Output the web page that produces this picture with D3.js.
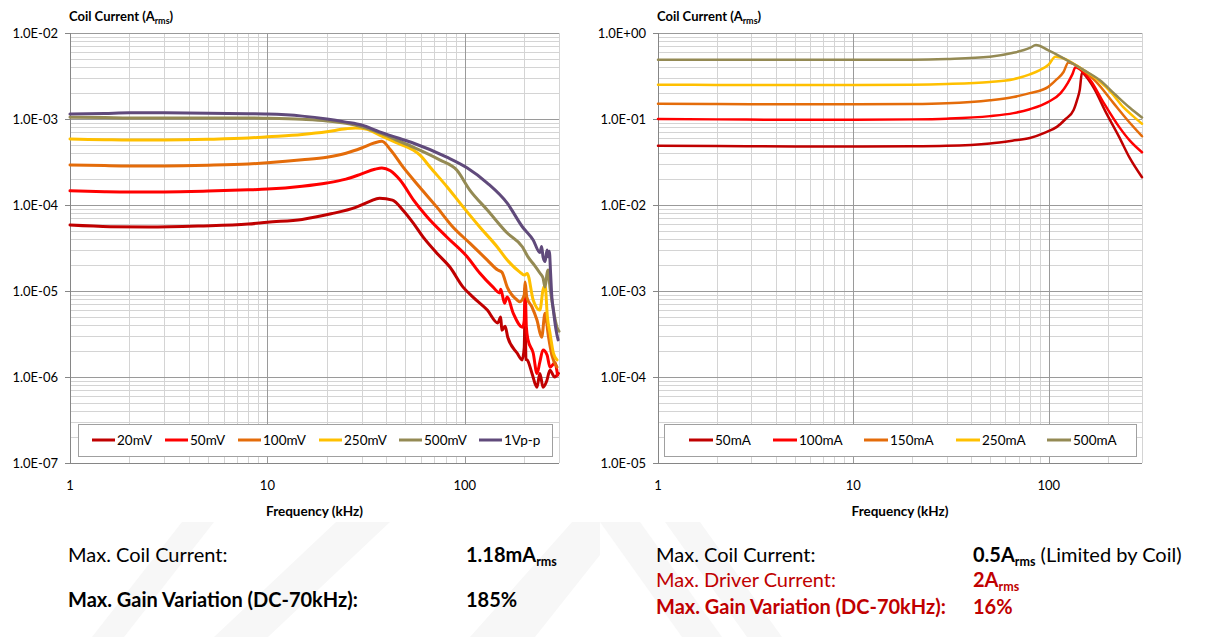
<!DOCTYPE html>
<html>
<head>
<meta charset="utf-8">
<script src="https://cdn.jsdelivr.net/npm/d3@7"></script>
<style>
  body { margin: 0; background: #ffffff; }
  svg { display: block; font-family: Lato, "Open Sans", sans-serif; }
</style>
</head>
<body>
<svg id="chart" width="1205" height="637"></svg>
<script>
// ---------------- data ----------------
const freqTickLabels = ["1", "10", "100"];
const leftYTickLabels = ["1.0E-07", "1.0E-06", "1.0E-05", "1.0E-04", "1.0E-03", "1.0E-02"];
const rightYTickLabels = ["1.0E-05", "1.0E-04", "1.0E-03", "1.0E-02", "1.0E-01", "1.0E+00"];

// voltage-drive sweeps: [frequency kHz, coil current A rms]
const driveLevels = ["20mV", "50mV", "100mV", "250mV", "500mV", "1Vp-p"];
const drive20mV = [[1,5.85e-5],[1.6,5.6e-5],[2.5,5.55e-5],[4.5,5.7e-5],[8,6.0e-5],[10,6.3e-5],[15,6.8e-5],[21,7.9e-5],[28,9.4e-5],[33,1.1e-4],[37,1.2e-4],[43,1.14e-4],[48.6,8.7e-5],[54.7,6.2e-5],[61.4,4.25e-5],[72,2.77e-5],[84,1.9e-5],[98,1.11e-5],[110,8.5e-6],[130,6.0e-6],[147,4.25e-6],[152,5.0e-6],[154,3.5e-6],[160,3.9e-6],[165,2.9e-6],[184,1.9e-6],[195,1.58e-6],[200,2.2e-6],[202,6.9e-6],[204,1.6e-6],[207,1.58e-6],[219,1.1e-6],[232,7.6e-7],[240,1.1e-6],[249,7.6e-7],[260,9.0e-7],[270,1.2e-6],[285,1.0e-6],[298,1.1e-6]];
const drive50mV = [[1,1.46e-4],[1.5,1.43e-4],[2,1.42e-4],[3,1.42e-4],[5,1.45e-4],[8,1.5e-4],[10,1.53e-4],[15,1.65e-4],[20,1.8e-4],[25,2.0e-4],[30,2.3e-4],[35,2.6e-4],[38,2.7e-4],[42,2.5e-4],[47,1.95e-4],[55,1.14e-4],[64.5,7.25e-5],[81,4.25e-5],[103,2.49e-5],[119,1.62e-5],[139,1.11e-5],[150,9.5e-6],[152,1.05e-5],[159,7.2e-6],[164,8.5e-6],[176,5.5e-6],[196,3.8e-6],[200,4.5e-6],[202,1.1e-5],[205,3.8e-6],[209,2.7e-6],[222,1.9e-6],[232,1.1e-6],[240,1.5e-6],[249,2.06e-6],[261,1.8e-6],[270,1.3e-6],[286,1.46e-6],[295,1.05e-6]];
const drive100mV = [[1,2.92e-4],[1.5,2.87e-4],[2,2.85e-4],[3,2.85e-4],[5,2.9e-4],[8,3.0e-4],[10,3.1e-4],[15,3.35e-4],[20,3.6e-4],[25,4.0e-4],[30,4.6e-4],[35,5.3e-4],[38,5.5e-4],[42,4.4e-4],[48.6,2.77e-4],[59,1.62e-4],[72,9.5e-5],[87,5.55e-5],[106,3.6e-5],[130,2.29e-5],[147,1.75e-5],[154,1.66e-5],[164,1.11e-5],[184,7.85e-6],[190,7.5e-6],[200,9.0e-6],[202,1.27e-5],[206,8.5e-6],[219,6.5e-6],[232,4.6e-6],[245,2.9e-6],[255,5.5e-6],[265,3.0e-6],[276,1.8e-6],[293,1.3e-6]];
const drive250mV = [[1,5.85e-4],[1.5,5.75e-4],[2,5.7e-4],[3,5.7e-4],[5,5.8e-4],[8,6.0e-4],[10,6.2e-4],[15,6.6e-4],[20,7.1e-4],[25,7.7e-4],[28,7.85e-4],[32,7.6e-4],[37,6.5e-4],[45,5.3e-4],[54.7,4.36e-4],[59.3,3.8e-4],[66.6,2.77e-4],[81.4,1.62e-4],[98,9.5e-5],[119,5.55e-5],[146,3.25e-5],[164,2.29e-5],[190,1.66e-5],[200,1.53e-5],[207,1.6e-5],[222,7.85e-6],[240,6.0e-6],[249,1.03e-5],[255,1.17e-5],[262,5.0e-6],[270,3.25e-6],[281,1.9e-6],[293,1.58e-6]];
const drive500mV = [[1,1.05e-3],[1.5,1.04e-3],[2,1.03e-3],[3,1.03e-3],[5,1.03e-3],[8,1.03e-3],[10,1.02e-3],[15,9.9e-4],[20,9.5e-4],[25,8.9e-4],[30,8.1e-4],[37,6.9e-4],[45,5.7e-4],[54.7,4.72e-4],[75,3.33e-4],[91,2.55e-4],[106,1.49e-4],[130,8.75e-5],[164,4.72e-5],[196,3.25e-5],[209,2.49e-5],[225,2.0e-5],[240,1.62e-5],[249,1.42e-5],[255,1.11e-5],[261,1.6e-5],[264,1.75e-5],[270,1.1e-5],[276,7.85e-6],[285,5.0e-6],[293,3.8e-6],[300,3.4e-6]];
const drive1Vpp = [[1,1.14e-3],[1.5,1.16e-3],[2,1.18e-3],[3,1.18e-3],[5,1.17e-3],[8,1.15e-3],[10,1.14e-3],[15,1.08e-3],[20,1.0e-3],[25,9.2e-4],[30,8.5e-4],[37,7.1e-4],[45,6.1e-4],[54.7,5.26e-4],[81,3.6e-4],[103,2.69e-4],[130,1.8e-4],[164,1.05e-4],[196,5.55e-5],[222,3.92e-5],[240,2.8e-5],[245,3.3e-5],[249,2.49e-5],[255,2.2e-5],[261,3.0e-5],[264,2.5e-5],[268,2.9e-5],[272,1.6e-5],[276,8.5e-6],[281,6.0e-6],[290,3.5e-6],[297,2.7e-6]];

// current-drive sweeps: [frequency kHz, coil current A rms]
const currentLevels = ["50mA", "100mA", "150mA", "250mA", "500mA"];
const drive50mA = [[1,0.049],[2,0.0485],[5,0.048],[10,0.048],[20,0.0482],[30,0.0488],[50,0.052],[65,0.056],[80,0.060],[95,0.069],[110,0.081],[122,0.100],[134,0.127],[140,0.17],[144,0.217],[148,0.35],[152,0.33],[169,0.235],[197,0.117],[229,0.062],[260,0.035],[300,0.021]];
const drive100mA = [[1,0.1],[2,0.099],[5,0.098],[10,0.098],[20,0.099],[30,0.101],[50,0.108],[66,0.117],[80,0.13],[99,0.157],[115,0.2],[125,0.262],[132,0.33],[137,0.40],[150,0.35],[163,0.284],[191,0.154],[229,0.081],[260,0.056],[300,0.041]];
const drive150mA = [[1,0.15],[2,0.149],[5,0.148],[10,0.148],[20,0.149],[30,0.152],[50,0.165],[66,0.18],[80,0.2],[99,0.235],[110,0.29],[119,0.352],[126,0.455],[150,0.37],[175,0.27],[214,0.154],[250,0.1],[300,0.063]];
const drive250mA = [[1,0.25],[2,0.249],[5,0.248],[10,0.248],[20,0.25],[30,0.255],[50,0.27],[66,0.29],[80,0.33],[90,0.37],[100,0.43],[108,0.53],[151,0.37],[180,0.28],[210,0.2],[240,0.138],[270,0.108],[300,0.088]];
const drive500mA = [[1,0.49],[2,0.489],[5,0.487],[10,0.487],[20,0.49],[30,0.5],[50,0.53],[65,0.585],[80,0.67],[86,0.725],[99,0.634],[151,0.37],[182,0.284],[220,0.19],[260,0.135],[300,0.104]];

// ---------------- styles ----------------
const palette = ["#C00000", "#FF0000", "#E46C0A", "#FFC000", "#948A54", "#604A7B"];
const svg = d3.select("#chart");
const TOP = 33, BOTTOM = 463;

// faint diagonal bands of the page watermark behind the summary text
const watermark = [
  [[92,637],[124,637],[214,522],[182,522]],
  [[214,637],[268,637],[390,522],[336,522]],
  [[470,637],[535,637],[600,555],[600,522],[572,522]],
  [[600,522],[640,522],[722,637],[682,637]],
  [[665,522],[700,522],[782,637],[747,637]]
];
svg.append("g").selectAll("polygon").data(watermark).join("polygon")
  .attr("points", d => d.map(p => p.join(",")).join(" "))
  .attr("fill", "#f7f7f7");

function drawPanel(cfg) {
  const g = svg.append("g");
  const yVals = cfg.yLabels.map(Number);
  const xVals = freqTickLabels.map(Number);
  const x = d3.scaleLog().domain([1, 300]).range([cfg.left, cfg.right]);
  const y = d3.scaleLog().domain([yVals[0], yVals[yVals.length - 1]]).range([BOTTOM, TOP]);

  const xMinor = [];
  xVals.forEach(d => { for (let k = 2; k <= 9; k++) if (d * k <= 300) xMinor.push(d * k); });
  const yMinor = [];
  yVals.slice(0, -1).forEach(d => { for (let k = 2; k <= 9; k++) yMinor.push(d * k); });

  // minor grid
  g.append("g").selectAll("line").data(xMinor).join("line")
    .attr("x1", d => Math.round(x(d)) + 0.5).attr("x2", d => Math.round(x(d)) + 0.5)
    .attr("y1", TOP).attr("y2", BOTTOM)
    .attr("stroke", "#d4d4d4").attr("stroke-width", 1);
  g.append("g").selectAll("line").data(yMinor).join("line")
    .attr("y1", d => Math.round(y(d)) + 0.5).attr("y2", d => Math.round(y(d)) + 0.5)
    .attr("x1", cfg.left).attr("x2", cfg.right)
    .attr("stroke", "#d4d4d4").attr("stroke-width", 1);
  // major grid
  g.append("g").selectAll("line").data(xVals.slice(1)).join("line")
    .attr("x1", d => Math.round(x(d)) + 0.5).attr("x2", d => Math.round(x(d)) + 0.5)
    .attr("y1", TOP).attr("y2", BOTTOM)
    .attr("stroke", "#9a9a9a").attr("stroke-width", 1);
  g.append("g").selectAll("line").data(yVals.slice(1)).join("line")
    .attr("y1", d => Math.round(y(d)) + 0.5).attr("y2", d => Math.round(y(d)) + 0.5)
    .attr("x1", cfg.left).attr("x2", cfg.right)
    .attr("stroke", "#9a9a9a").attr("stroke-width", 1);

  // axes lines and ticks
  g.append("line").attr("x1", cfg.left + 0.5).attr("x2", cfg.left + 0.5)
    .attr("y1", TOP).attr("y2", BOTTOM).attr("stroke", "#868686");
  g.append("line").attr("x1", cfg.left - 5).attr("x2", cfg.right)
    .attr("y1", BOTTOM + 0.5).attr("y2", BOTTOM + 0.5).attr("stroke", "#868686");
  g.append("g").selectAll("line").data(yVals).join("line")
    .attr("x1", cfg.left - 5).attr("x2", cfg.left)
    .attr("y1", d => Math.round(y(d)) + 0.5).attr("y2", d => Math.round(y(d)) + 0.5)
    .attr("stroke", "#868686");

  // tick labels
  g.append("g").selectAll("text").data(cfg.yLabels).join("text")
    .attr("x", cfg.left - 12).attr("y", d => y(+d))
    .attr("text-anchor", "end").attr("dominant-baseline", "central")
    .attr("font-size", 13).attr("fill", "#000").text(d => d);
  g.append("g").selectAll("text").data(freqTickLabels).join("text")
    .attr("x", d => x(+d)).attr("y", 485)
    .attr("text-anchor", "middle").attr("dominant-baseline", "central")
    .attr("font-size", 13).attr("fill", "#000").text(d => d);

  // axis titles
  const t = g.append("text").attr("x", cfg.left - 1).attr("y", 21)
    .attr("font-size", 13).attr("font-weight", "bold").attr("fill", "#000");
  t.append("tspan").text("Coil Current (A");
  t.append("tspan").attr("font-size", 9).attr("dy", 3).text("rms");
  t.append("tspan").attr("dy", -3).text(")");
  g.append("text").attr("x", (cfg.left + cfg.right) / 2).attr("y", 511)
    .attr("text-anchor", "middle").attr("dominant-baseline", "central")
    .attr("font-size", 13.5).attr("font-weight", "bold").attr("fill", "#000")
    .text("Frequency (kHz)");

  // curves
  const line = d3.line().x(d => x(d[0])).y(d => y(d[1])).curve(d3.curveMonotoneX);
  g.append("g").selectAll("path").data(cfg.series).join("path")
    .attr("d", line).attr("fill", "none")
    .attr("stroke", (d, i) => cfg.colors[i])
    .attr("stroke-width", cfg.lineWidth)
    .attr("stroke-linejoin", "round").attr("stroke-linecap", "round");

  // legend
  const lg = g.append("g");
  lg.append("rect").attr("x", cfg.legend.x + 0.5).attr("y", cfg.legend.y + 0.5)
    .attr("width", cfg.legend.w).attr("height", cfg.legend.h)
    .attr("fill", "#fff").attr("stroke", "#a0a0a0");
  const cy = cfg.legend.y + cfg.legend.h / 2;
  const items = lg.selectAll("g").data(cfg.names).join("g")
    .attr("transform", (d, i) => `translate(${cfg.legend.starts[i]},${cy})`);
  items.append("line").attr("x1", 0).attr("x2", cfg.legend.swatch)
    .attr("stroke", (d, i) => cfg.colors[i]).attr("stroke-width", 3);
  items.append("text").attr("x", cfg.legend.swatch + 2)
    .attr("dominant-baseline", "central").attr("font-size", 13.5).attr("fill", "#000")
    .text(d => d);
}

drawPanel({
  left: 70, right: 559, yLabels: leftYTickLabels,
  series: [drive20mV, drive50mV, drive100mV, drive250mV, drive500mV, drive1Vpp],
  names: driveLevels, colors: palette, lineWidth: 3,
  legend: { x: 78, y: 424, w: 474, h: 32, swatch: 23, starts: [92, 165, 238, 319, 399, 479] }
});
drawPanel({
  left: 658, right: 1142, yLabels: rightYTickLabels,
  series: [drive50mA, drive100mA, drive150mA, drive250mA, drive500mA],
  names: currentLevels, colors: palette.slice(0, 5), lineWidth: 2.5,
  legend: { x: 664, y: 424, w: 472, h: 32, swatch: 24, starts: [689, 773, 864, 956, 1047] }
});

// ---------------- summary text ----------------
const red = "#C00000";
function rich(x, y, parts, color) {
  const t = svg.append("text").attr("x", x).attr("y", y).attr("font-size", 20).attr("fill", color);
  parts.forEach(p => {
    const s = t.append("tspan").text(p.text);
    if (p.bold) s.attr("font-weight", "bold");
    if (p.sub) s.attr("font-size", 12.5).attr("dy", 4);
    if (p.up) s.attr("dy", -4);
  });
}
rich(68, 562, [{ text: "Max. Coil Current:" }], "#000");
rich(466, 562, [{ text: "1.18mA", bold: true }, { text: "rms", bold: true, sub: true }], "#000");
rich(68, 607, [{ text: "Max. Gain Variation (DC-70kHz):", bold: true }], "#000");
rich(466, 607, [{ text: "185%", bold: true }], "#000");

rich(656, 562, [{ text: "Max. Coil Current:" }], "#000");
rich(973, 562, [{ text: "0.5A", bold: true }, { text: "rms", bold: true, sub: true }, { text: " (Limited by Coil)", up: true }], "#000");
rich(656, 587, [{ text: "Max. Driver Current:" }], red);
rich(973, 587, [{ text: "2A", bold: true }, { text: "rms", bold: true, sub: true }], red);
rich(656, 614, [{ text: "Max. Gain Variation (DC-70kHz):", bold: true }], red);
rich(973, 614, [{ text: "16%", bold: true }], red);
</script>
</body>
</html>
